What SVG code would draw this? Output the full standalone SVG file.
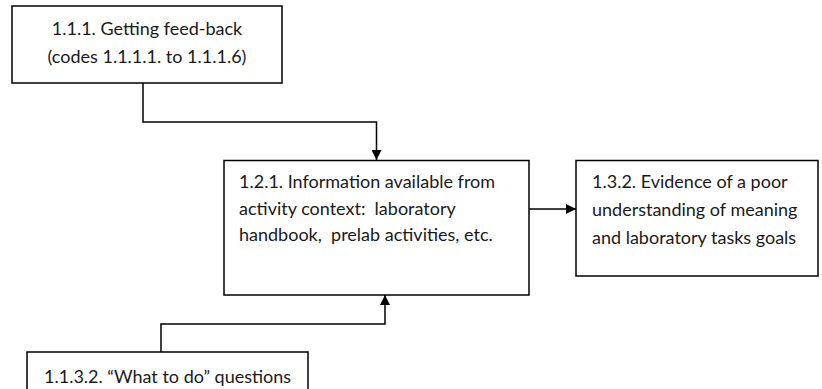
<svg xmlns="http://www.w3.org/2000/svg" width="822" height="389" viewBox="0 0 822 389">
<defs>
<marker id="ah" viewBox="0 0 10 10" refX="10" refY="5" markerWidth="10" markerHeight="10" markerUnits="userSpaceOnUse" orient="auto">
<path d="M0,0 L10,5 L0,10 z" fill="#000"/>
</marker>
<style>
.box{fill:#fff;stroke:#000;stroke-width:1.5}
.t{font-family:Lato,"Liberation Sans",Arial,sans-serif;font-size:18px;fill:#1a1a1a;white-space:pre}
.c{fill:none;stroke:#000;stroke-width:1.5}
</style>
</defs>
<rect width="822" height="389" fill="#fff"/>
<g id="connectors">
<path class="c" d="M143,83 V122 H376.5 V160" marker-end="url(#ah)"/>
<path class="c" d="M161,352 V324 H385 V295" marker-end="url(#ah)"/>
<path class="c" d="M529,209 H576" marker-end="url(#ah)"/>
</g>
<g id="n111">
<rect class="box" x="12" y="6" width="270" height="77"/>
<text class="t" x="147" y="35" text-anchor="middle">1.1.1. Getting feed-back</text>
<text class="t" x="147" y="63" text-anchor="middle">(codes 1.1.1.1. to 1.1.1.6)</text>
</g>
<g id="n121">
<rect class="box" x="224" y="160.5" width="305" height="134.5"/>
<text class="t" x="239" y="188">1.2.1. Information available from</text>
<text class="t" x="239" y="215">activity context:  laboratory</text>
<text class="t" x="239" y="241">handbook,  prelab activities, etc.</text>
</g>
<g id="n132">
<rect class="box" x="576" y="160.5" width="242" height="115.5"/>
<text class="t" x="592" y="188">1.3.2. Evidence of a poor</text>
<text class="t" x="592" y="216">understanding of meaning</text>
<text class="t" x="592" y="244">and laboratory tasks goals</text>
</g>
<g id="n1132">
<rect class="box" x="27" y="352" width="281" height="50"/>
<text class="t" x="44" y="383">1.1.3.2. “What to do” questions</text>
</g>
</svg>
